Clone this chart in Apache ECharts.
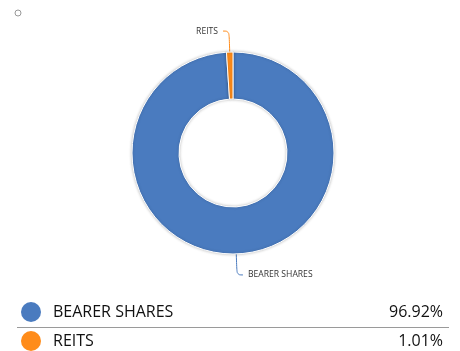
<!DOCTYPE html>
<html>
<head>
<meta charset="utf-8">
<script src="https://cdn.jsdelivr.net/npm/echarts@6/dist/echarts.min.js"></script>
<style>
  html, body { margin: 0; padding: 0; background: #fff; }
  #chart { width: 460px; height: 351px; }
</style>
</head>
<body>
<div id="chart"></div>
<script>
// Holdings breakdown
const categories = ['BEARER SHARES', 'REITS'];
const shares = [96.92, 1.01];
const colors = ['#4a7bbf', '#ff8c1a'];

const FONT = '"Open Sans", "Noto Sans", sans-serif';

const chart = echarts.init(document.getElementById('chart'), null, { renderer: 'canvas' });

// Legend rows below the donut: swatch, name, right-aligned percentage
const rowY = [312, 341];
const legendGraphics = [];
categories.forEach((name, i) => {
  legendGraphics.push({
    type: 'circle',
    shape: { cx: 31, cy: rowY[i], r: 10 },
    style: { fill: colors[i] }
  });
  legendGraphics.push({
    type: 'text',
    x: 53, y: rowY[i],
    style: { text: name, fill: '#111', font: '16px ' + FONT, verticalAlign: 'middle', align: 'left' }
  });
  legendGraphics.push({
    type: 'text',
    x: 443, y: rowY[i],
    style: { text: shares[i].toFixed(2) + '%', fill: '#111', font: '16px ' + FONT, verticalAlign: 'middle', align: 'right' }
  });
});
legendGraphics.push({
  type: 'line',
  shape: { x1: 17, y1: 327.5, x2: 449, y2: 327.5 },
  style: { stroke: '#9a9a9a', lineWidth: 1 }
});
legendGraphics.push({
  type: 'circle',
  shape: { cx: 18, cy: 13, r: 3 },
  style: { fill: '#fff', stroke: '#999', lineWidth: 1 }
});

chart.setOption({
  animation: false,
  backgroundColor: '#fff',
  color: colors,
  graphic: legendGraphics,
  series: [{
    type: 'pie',
    center: [233, 153],
    radius: [54, 101],
    startAngle: 90,
    clockwise: true,
    data: categories.map((name, i) => ({ name, value: shares[i] })),
    itemStyle: {
      borderColor: '#fff',
      borderWidth: 1,
      shadowBlur: 3,
      shadowColor: 'rgba(0,0,0,0.25)'
    },
    label: {
      show: true,
      position: 'outside',
      formatter: '{b}',
      fontSize: 8.6,
      color: '#333',
      fontFamily: FONT
    },
    labelLine: {
      show: true,
      length: 21,
      length2: 6,
      smooth: 0.4,
      lineStyle: { width: 1 }
    }
  }]
});
</script>
</body>
</html>
